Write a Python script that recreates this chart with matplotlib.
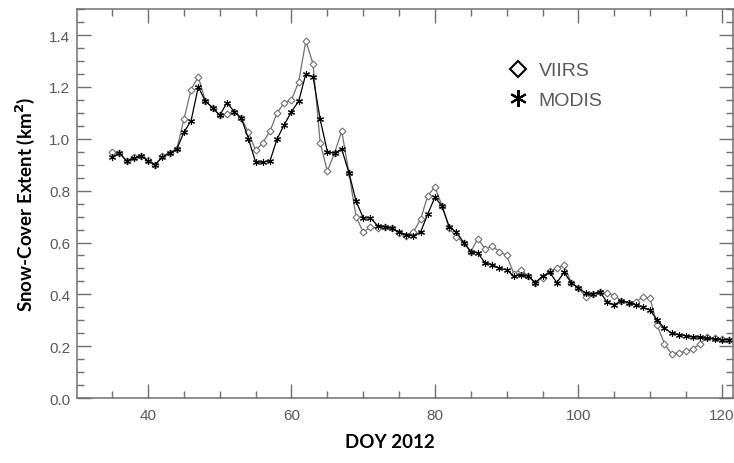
import matplotlib
matplotlib.use('Agg')
import matplotlib.pyplot as plt
import numpy as np
from matplotlib.ticker import MultipleLocator

DOY = list(range(35, 122))

VIIRS = [
    0.95, 0.945, 0.915, 0.93, 0.935, 0.92, 0.90, 0.935, 0.945, 0.96,
    1.075, 1.19, 1.24, 1.145, 1.12, 1.09, 1.095, 1.105, 1.08, 1.025,
    0.955, 0.985, 1.03, 1.10, 1.14, 1.15, 1.22, 1.377, 1.29, 0.985,
    0.875, 0.945, 1.03, 0.87, 0.70, 0.64, 0.66, 0.655, 0.66, 0.655,
    0.635, 0.625, 0.64, 0.69, 0.78, 0.815, 0.74, 0.655, 0.62, 0.60,
    0.565, 0.615, 0.575, 0.585, 0.565, 0.55, 0.48, 0.495, 0.47, 0.445,
    0.465, 0.49, 0.50, 0.515, 0.445, 0.425, 0.39, 0.40, 0.41, 0.405,
    0.395, 0.375, 0.368, 0.37, 0.39, 0.385, 0.28, 0.21, 0.17, 0.175,
    0.18, 0.19, 0.21, 0.235, 0.23, 0.228, 0.225,
]
MODIS = [
    0.93, 0.945, 0.915, 0.925, 0.935, 0.915, 0.90, 0.93, 0.945, 0.96,
    1.025, 1.07, 1.20, 1.145, 1.12, 1.09, 1.14, 1.105, 1.08, 1.00,
    0.91, 0.91, 0.915, 1.00, 1.055, 1.105, 1.145, 1.25, 1.24, 1.075,
    0.95, 0.945, 0.96, 0.87, 0.76, 0.695, 0.695, 0.665, 0.66, 0.655,
    0.64, 0.63, 0.625, 0.64, 0.71, 0.775, 0.74, 0.66, 0.64, 0.60,
    0.565, 0.56, 0.52, 0.515, 0.50, 0.495, 0.47, 0.475, 0.47, 0.445,
    0.47, 0.485, 0.445, 0.485, 0.445, 0.425, 0.405, 0.40, 0.41, 0.37,
    0.36, 0.375, 0.368, 0.36, 0.35, 0.34, 0.30, 0.27, 0.25, 0.245,
    0.24, 0.235, 0.235, 0.23, 0.228, 0.225, 0.225,
]

GREY = '#707070'
TEXT_GREY = '#5a5a5a'
ASTERISK = (6, 2, 0)

plt.rcParams['font.family'] = ['Liberation Sans', 'DejaVu Sans']

fig = plt.figure(figsize=(7.34, 4.64), dpi=100)
ax = fig.add_axes([0.105, 0.14, 0.894, 0.838])

ax.plot(DOY, VIIRS, color=GREY, lw=0.9, marker='D', ms=3.5,
        mfc='white', mec=GREY, mew=0.8)
ax.plot(DOY, MODIS, color='black', lw=0.9, marker=ASTERISK, ms=5,
        mec='black', mew=0.8)

ax.set_xlim(30.1, 121.6)
ax.set_ylim(0, 1.5)
ax.xaxis.set_minor_locator(MultipleLocator(5))
ax.yaxis.set_minor_locator(MultipleLocator(0.05))
yt = np.arange(0, 1.41, 0.2)
ax.set_yticks(yt)
ax.set_yticklabels([f'{v:.1f}' for v in yt])
ax.set_xticks([40, 60, 80, 100, 120])

ax.tick_params(which='both', direction='in', top=True, right=True,
               color=GREY, labelcolor=TEXT_GREY, labelsize=11)
ax.tick_params(which='major', length=10, width=1, pad=7)
ax.tick_params(axis='y', which='major', pad=5)
ax.tick_params(which='minor', length=5, width=1)
for sp in ax.spines.values():
    sp.set_color(GREY)
    sp.set_linewidth(1.1)

ax.set_xlabel('DOY 2012', fontsize=13.5, fontweight='bold', family='Lato',
              labelpad=7)
ax.xaxis.set_label_coords(0.477, -0.09)
ax.set_ylabel('Snow-Cover Extent (km$^\\mathbf{2}$)', fontsize=13.5,
              fontweight='bold', family='Lato', labelpad=9)

h1 = plt.Line2D([], [], ls='none', marker='D', ms=8, mfc='white',
                mec='black', mew=1.5)
h2 = plt.Line2D([], [], ls='none', marker=ASTERISK, ms=12, mec='black', mew=1.5)
leg = ax.legend([h1, h2], ['VIIRS', 'MODIS'], loc='upper left',
                bbox_to_anchor=(0.628, 0.91), frameon=False, fontsize=14,
                handlelength=1.2, handletextpad=0.45, labelspacing=0.6)
for t in leg.get_texts():
    t.set_color(TEXT_GREY)

fig.savefig('out.png', dpi=100)
